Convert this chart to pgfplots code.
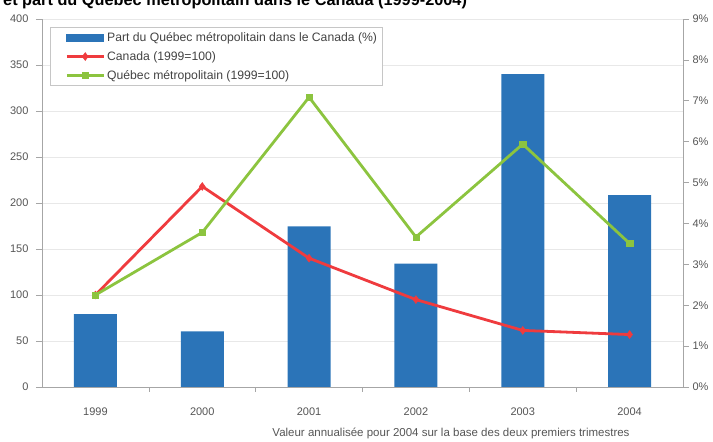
\documentclass[border=0pt]{standalone}
\usepackage{fontspec}
\setmainfont{Liberation Sans}
\usepackage{pgfplots}
\pgfplotsset{compat=1.18}
\definecolor{barblue}{HTML}{2B74B8}
\definecolor{cred}{HTML}{EF3B3E}
\definecolor{cgreen}{HTML}{8CC43F}
\definecolor{gridc}{HTML}{E8E8E8}
\definecolor{axc}{HTML}{A6A6A6}
\definecolor{tickc}{HTML}{555555}
\begin{document}
\begin{tikzpicture}[x=1pt,y=1pt]
\useasboundingbox (0,0) rectangle (713,442);
\node[anchor=base west, font=\fontsize{16.3}{18}\selectfont\bfseries, inner sep=0] at (3,436) {et part du Québec métropolitain dans le Canada (1999-2004)};
\node[anchor=base, font=\fontsize{11.5}{13}\selectfont, text=tickc, inner sep=0] at (451,5.5) {Valeur annualisée pour 2004 sur la base des deux premiers trimestres};
% right axis with bars
\begin{axis}[
  at={(42pt,55pt)}, anchor=south west, scale only axis, width=641pt, height=368pt,
  xmin=-0.5, xmax=5.5, ymin=0, ymax=9,
  axis y line*=right, axis x line*=bottom,
  axis line style={draw=axc, line width=0.8pt},
  tick align=outside, major tick length=6pt,
  tick style={draw=axc, line width=0.6pt},
  xtick={0,...,5}, xticklabels={1999,2000,2001,2002,2003,2004},
  major x tick style={draw=none},
  extra x ticks={0.5,1.5,2.5,3.5,4.5},
  extra x tick labels={},
  extra x tick style={major x tick style={draw=axc, line width=0.6pt}, major tick length=5pt},
  ytick={0,...,9}, yticklabels={0\%,1\%,2\%,3\%,4\%,5\%,6\%,7\%,8\%,9\%},
  extra y ticks={1.125,2.25,3.375,4.5,5.625,6.75,7.875,9},
  extra y tick labels={},
  extra y tick style={grid=major, major grid style={draw=gridc, line width=0.7pt}, major tick length=0pt},
  ticklabel style={font=\fontsize{11}{13}\selectfont, text=tickc},
  xticklabel style={yshift=-11pt},
]
\addplot[ybar, bar width=43pt, fill=barblue, draw=none] coordinates {(0,1.78) (1,1.36) (2,3.93) (3,3.02) (4,7.65) (5,4.69)};
\end{axis}
% left axis with lines
\begin{axis}[
  at={(42pt,55pt)}, anchor=south west, scale only axis, width=641pt, height=368pt,
  xmin=-0.5, xmax=5.5, ymin=0, ymax=400,
  axis y line*=left, axis x line=none,
  axis line style={draw=axc, line width=0.8pt},
  tick align=outside, major tick length=6pt,
  tick style={draw=axc, line width=0.6pt},
  ytick={0,50,...,400}, yticklabels={0,50,100,150,200,250,300,350,400},
  yticklabel style={font=\fontsize{11}{13}\selectfont, text=tickc, xshift=-4pt},
  clip=false,
  legend image code/.code={\path (-12pt,0pt); \draw[mark repeat=2,mark phase=2,#1] plot coordinates {(0pt,0pt) (18.5pt,0pt) (37pt,0pt)};},
  legend style={at={(0,1)}, anchor=north west, xshift=8pt, yshift=-8pt,
    draw=gray!45, line width=0.7pt, fill=white,
    font=\fontsize{12.2}{14}\selectfont, text=tickc!80!black,
    inner xsep=3pt, inner ysep=3pt, row sep=4.5pt, nodes={inner sep=2pt}},
  legend cell align=left,
]
\addlegendimage{legend image code/.code={\path (-12pt,0pt); \fill[barblue] (0pt,-3.5pt) rectangle (37pt,3.5pt);}}
\addlegendentry{Part du Québec métropolitain dans le Canada (\%)}
\addplot[cred, line width=2.8pt, mark=diamond*, mark size=4pt, mark options={solid, line width=0.4pt}] coordinates {(0,100) (1,218) (2,140) (3,95) (4,61.5) (5,57)};
\addlegendentry{Canada (1999=100)}
\addplot[cgreen, line width=2.8pt, mark=square*, mark size=3.2pt, mark options={solid, line width=0.4pt}] coordinates {(0,100) (1,168) (2,315) (3,163) (4,264) (5,156)};
\addlegendentry{Québec métropolitain (1999=100)}
\end{axis}
\end{tikzpicture}
\end{document}
